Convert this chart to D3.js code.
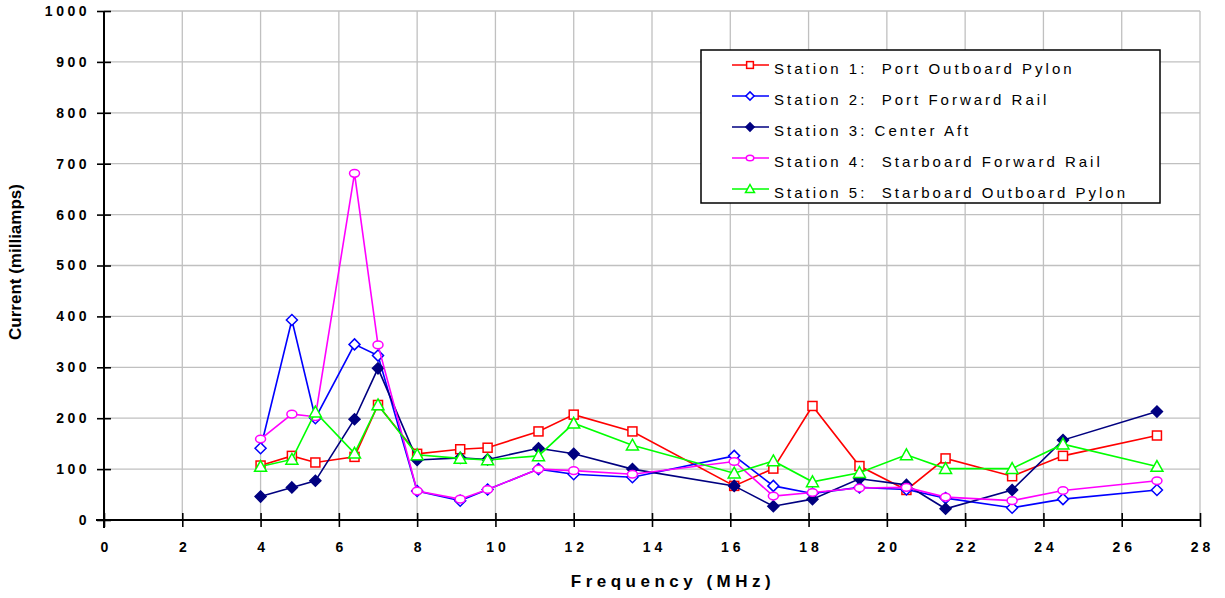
<!DOCTYPE html>
<html>
<head>
<meta charset="utf-8">
<script src="https://cdn.jsdelivr.net/npm/d3@7"></script>
<style>
  body { margin: 0; background: #fff; }
  svg { display: block; }
</style>
</head>
<body>
<script>
// frequencies (MHz) where each station was measured
var freqs = [4.0, 4.8, 5.4, 6.4, 7.0, 8.0, 9.1, 9.8, 11.1, 12.0, 13.5, 16.1, 17.1, 18.1, 19.3, 20.5, 21.5, 23.2, 24.5, 26.9];

// current in milliamps, one list per station
var station1 = [107, 126, 113, 124, 226, 130, 139, 142, 174, 207, 174, 67, 101, 224, 106, 59, 121, 86, 126, 166];
var station2 = [141, 393, 200, 345, 323, 57, 38, 60, 100, 90, 84, 126, 67, 52, 64, 60, 43, 24, 41, 59];
var station3 = [46, 64, 77, 198, 298, 118, 122, 119, 141, 130, 100, 67, 27, 41, 81, 69, 22, 59, 157, 213];
var station4 = [159, 208, 203, 681, 344, 57, 41, 60, 100, 97, 90, 115, 47, 54, 63, 64, 45, 38, 58, 77];
var station5 = [105, 119, 212, 131, 226, 128, 121, 118, 126, 190, 147, 92, 116, 75, 93, 128, 101, 101, 149, 105];

var stationNames = [
  "Station 1:  Port Outboard Pylon",
  "Station 2:  Port Forward Rail",
  "Station 3: Center Aft",
  "Station 4:  Starboard Forward Rail",
  "Station 5:  Starboard Outboard Pylon"
];

var xTicks = [0, 2, 4, 6, 8, 10, 12, 14, 16, 18, 20, 22, 24, 26, 28];
var yTicks = [0, 100, 200, 300, 400, 500, 600, 700, 800, 900, 1000];

var series = [
  {name: stationNames[0], values: station1, color: "#ff0000", marker: "square"},
  {name: stationNames[1], values: station2, color: "#0000ff", marker: "diamond"},
  {name: stationNames[2], values: station3, color: "#000080", marker: "filled"},
  {name: stationNames[3], values: station4, color: "#ff00ff", marker: "circle"},
  {name: stationNames[4], values: station5, color: "#00ff00", marker: "triangle"}
];

var W = 1225, H = 598;
var margin = {top: 11, right: 25, bottom: 78, left: 104};
var font = "'Liberation Sans', Arial, sans-serif";

var svg = d3.select("body").append("svg")
    .attr("width", W)
    .attr("height", H);

var x = d3.scaleLinear().domain([0, 28]).range([margin.left, W - margin.right]);
var y = d3.scaleLinear().domain([0, 1000]).range([H - margin.bottom, margin.top]);

// grid
svg.append("g").selectAll("line")
  .data(xTicks.slice(1))
  .enter().append("line")
    .attr("x1", d => x(d)).attr("x2", d => x(d))
    .attr("y1", y(0)).attr("y2", y(1000))
    .attr("stroke", "#c0c0c0").attr("stroke-width", 1.3);

svg.append("g").selectAll("line")
  .data(yTicks.slice(1))
  .enter().append("line")
    .attr("y1", d => y(d)).attr("y2", d => y(d))
    .attr("x1", x(0)).attr("x2", x(28))
    .attr("stroke", "#c0c0c0").attr("stroke-width", 1.3);

// axes
var xAxis = d3.axisBottom(x).tickValues(xTicks).tickSize(7).tickFormat(d3.format("d"));
var gx = svg.append("g")
    .attr("transform", "translate(0," + y(0) + ")")
    .call(xAxis);
gx.select(".domain").attr("stroke", "#000").attr("stroke-width", 2)
    .attr("d", "M" + (x(0) - 8) + ",0H" + x(28));
gx.selectAll(".tick line").attr("y1", -7).attr("stroke-width", 1.6);
gx.selectAll(".tick text")
    .attr("y", 22)
    .attr("dx", 2)
    .attr("font-family", font)
    .attr("font-weight", "bold")
    .attr("font-size", "14px")
    .attr("letter-spacing", "4px")
    .attr("fill", "#000");

var yAxis = d3.axisLeft(y).tickValues(yTicks).tickSize(7).tickFormat(d3.format("d"));
var gy = svg.append("g")
    .attr("transform", "translate(" + x(0) + ",0)")
    .call(yAxis);
gy.select(".domain").attr("stroke", "#000").attr("stroke-width", 2)
    .attr("d", "M0," + y(1000) + "V" + (y(0) + 8));
gy.selectAll(".tick line").attr("x1", 7).attr("stroke-width", 1.6);
gy.selectAll(".tick text")
    .attr("x", -14)
    .attr("font-family", font)
    .attr("font-weight", "bold")
    .attr("font-size", "14px")
    .attr("letter-spacing", "3.5px")
    .attr("fill", "#000");

// axis titles
svg.append("text")
    .attr("x", 673).attr("y", 587)
    .attr("text-anchor", "middle")
    .attr("font-family", font)
    .attr("font-weight", "bold")
    .attr("font-size", "17px")
    .attr("letter-spacing", "4.5px")
    .text("Frequency (MHz)");

svg.append("text")
    .attr("transform", "translate(21,262) rotate(-90)")
    .attr("text-anchor", "middle")
    .attr("font-family", font)
    .attr("font-weight", "bold")
    .attr("font-size", "17px")
    .text("Current (milliamps)");

// markers
function drawMarker(g, type, color, s) {
  if (type === "square") {
    g.append("rect").attr("x", -4.5 * s).attr("y", -4.5 * s)
      .attr("width", 9 * s).attr("height", 9 * s)
      .attr("fill", "#fff").attr("stroke", color).attr("stroke-width", 1.5);
  } else if (type === "diamond" || type === "filled") {
    var r = 5.5 * s;
    g.append("path").attr("d", "M0," + (-r) + "L" + r + ",0L0," + r + "L" + (-r) + ",0Z")
      .attr("fill", type === "filled" ? color : "#fff")
      .attr("stroke", color).attr("stroke-width", 1.5);
  } else if (type === "circle") {
    g.append("ellipse").attr("rx", 5 * s).attr("ry", 3.8 * s)
      .attr("fill", "#fff").attr("stroke", color).attr("stroke-width", 1.5);
  } else if (type === "triangle") {
    var t = 6 * s;
    g.append("path").attr("d", "M0," + (-t) + "L" + t + "," + (t * 0.8) + "L" + (-t) + "," + (t * 0.8) + "Z")
      .attr("fill", "#fff").attr("stroke", color).attr("stroke-width", 1.5);
  }
}

var line = d3.line()
    .x((d, i) => x(freqs[i]))
    .y(d => y(d));

series.forEach(function(s) {
  svg.append("path")
    .datum(s.values)
    .attr("fill", "none")
    .attr("stroke", s.color)
    .attr("stroke-width", 1.6)
    .attr("d", line);
  s.values.forEach(function(v, i) {
    var g = svg.append("g").attr("transform", "translate(" + x(freqs[i]) + "," + y(v) + ")");
    drawMarker(g, s.marker, s.color, 1);
  });
});

// legend
var lg = svg.append("g").attr("transform", "translate(701,50)");
lg.append("rect")
    .attr("width", 459).attr("height", 153)
    .attr("fill", "#fff").attr("stroke", "#000").attr("stroke-width", 1.5);

series.forEach(function(s, i) {
  var row = lg.append("g").attr("transform", "translate(0," + (15 + i * 31) + ")");
  row.append("line").attr("x1", 31).attr("x2", 68).attr("y1", 0).attr("y2", 0)
    .attr("stroke", s.color).attr("stroke-width", 1.6);
  var m = row.append("g").attr("transform", "translate(49,0)");
  drawMarker(m, s.marker, s.color, 0.75);
  row.append("text")
    .attr("x", 73).attr("y", 9)
    .attr("font-family", font)
    .attr("font-size", "15px")
    .attr("letter-spacing", "3px")
    .style("white-space", "pre")
    .text(s.name);
});
</script>
</body>
</html>
